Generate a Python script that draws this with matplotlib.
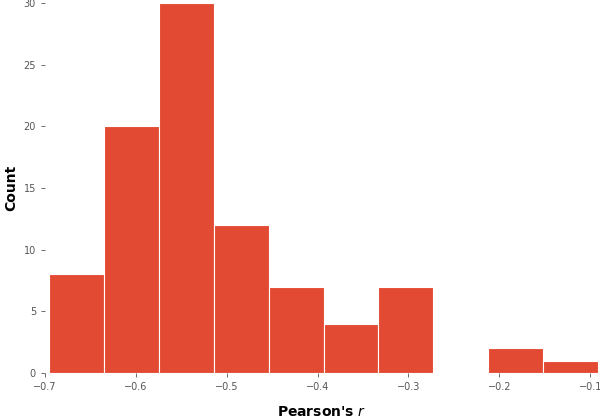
import numpy as np
import matplotlib.pyplot as plt

edges = np.linspace(-0.6955, -0.0914, 11)
counts = [8, 20, 30, 12, 7, 4, 7, 0, 2, 1]

fig = plt.figure(figsize=(6, 4.18), dpi=100)
ax = fig.add_axes([45/600, 45/418, 553/600, 370/418])
ax.hist(edges[:-1], bins=edges, weights=counts, color='#E24A33', edgecolor='white', linewidth=0.8)
ax.set_xlim(-0.7, -0.0914)
ax.set_ylim(0, 30)
ax.set_xticks([-0.7, -0.6, -0.5, -0.4, -0.3, -0.2, -0.1])
ax.set_xticklabels(['\u22120.7', '\u22120.6', '\u22120.5', '\u22120.4', '\u22120.3', '\u22120.2', '\u22120.1'])
ax.set_yticks([0, 5, 10, 15, 20, 25, 30])
for s in ax.spines.values():
    s.set_visible(False)
ax.tick_params(labelsize=7, colors='#555555', length=3, width=0.6, direction='out')
ax.set_xlabel("Pearson's $r$", fontsize=10, fontweight='bold', labelpad=9)
ax.set_ylabel('Count', fontsize=10, fontweight='bold')
fig.savefig('out.png')
